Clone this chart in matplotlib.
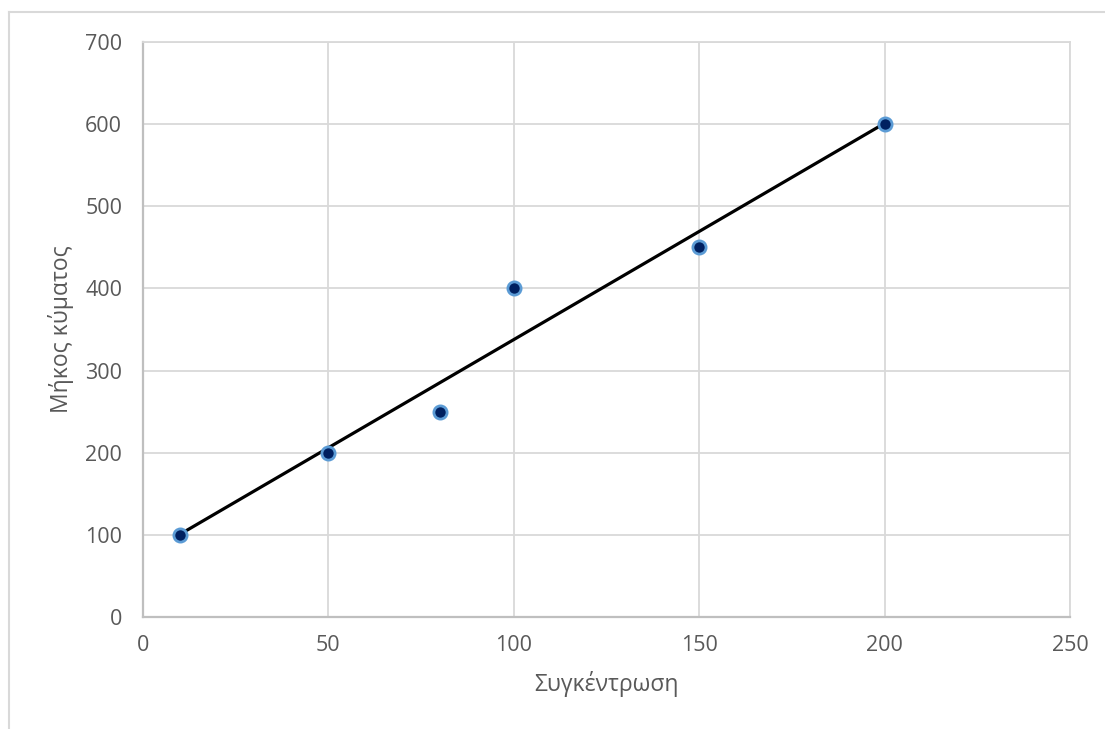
import numpy as np
import matplotlib.pyplot as plt
from matplotlib.lines import Line2D

# data
concentration = [10, 50, 80, 100, 150, 200]
wavelength = [100, 200, 250, 400, 450, 600]

x_label = 'Συγκέντρωση'
y_label = 'Μήκος κύματος'

plt.rcParams['font.family'] = ['Open Sans', 'DejaVu Sans']

W, H = 1105, 729
fig = plt.figure(figsize=(W / 100, H / 100), dpi=100)
fig.patch.set_facecolor('white')

ax = fig.add_axes([143 / W, 1 - 617 / H, (1070 - 143) / W, (617 - 42) / H])

# linear trendline (least squares fit of the data)
slope, intercept = np.polyfit(concentration, wavelength, 1)
xs = np.array([min(concentration), max(concentration)])
ax.plot(xs, slope * xs + intercept, color='black', lw=2.3, zorder=3)

ax.plot(concentration, wavelength, 'o', ms=9.5, mfc='#002060', mec='#5b9bd5',
        mew=2, zorder=4)

ax.set_xlim(0, 250)
ax.set_ylim(0, 700)
ax.set_xticks(range(0, 251, 50))
ax.set_yticks(range(0, 701, 100))
ax.grid(True, color='#d9d9d9', lw=1.3)
ax.set_axisbelow(True)

for side in ['top', 'right']:
    ax.spines[side].set_color('#d9d9d9')
    ax.spines[side].set_linewidth(1.3)
for side in ['left', 'bottom']:
    ax.spines[side].set_color('#bfbfbf')
    ax.spines[side].set_linewidth(1.6)

ax.tick_params(length=0, labelsize=15.5, labelcolor='#595959')
ax.tick_params(axis='y', pad=15)
ax.tick_params(axis='x', pad=13)

ax.set_xlabel(x_label, fontsize=16.5, color='#595959', labelpad=11)
ax.set_ylabel(y_label, fontsize=16.5, color='#595959', labelpad=8)

# chart area border
fig.add_artist(Line2D([9 / W, 9 / W], [0, 1 - 12 / H], color='#d9d9d9', lw=1.5))
fig.add_artist(Line2D([9 / W, 1], [1 - 12 / H, 1 - 12 / H], color='#d9d9d9', lw=1.5))

fig.savefig('out.png', dpi=100)
